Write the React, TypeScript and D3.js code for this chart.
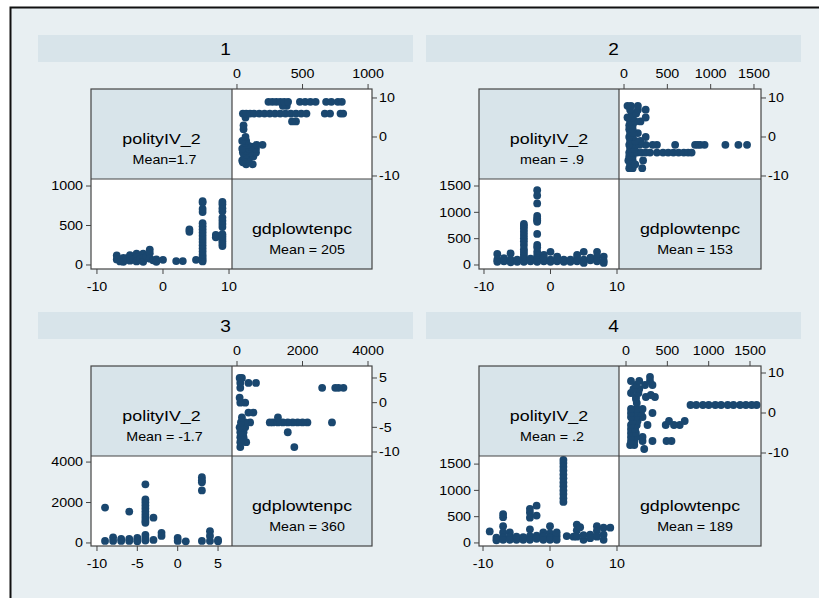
import React from 'react';
import * as d3 from 'd3';

// ---------- data ----------
const panelTitles = ['1', '2', '3', '4'];
const varNameA = 'polityIV_2';
const varNameB = 'gdplowtenpc';
const polityMeanLabels = ['Mean=1.7', 'mean = .9', 'Mean = -1.7', 'Mean = .2'];
const gdpMeanLabels = ['Mean = 205', 'Mean = 153', 'Mean = 360', 'Mean = 189'];

// panel 1
const polity1 = [
  -7, -7, -6.5, -6, -6, -5.5, -5, -5, -4.5, -4, -4, -4, -3.5, -3, -3, -3, -2.5, -2, -2, -2, -1.5, -1, -1, 0, 2, 3, 4, 4, 5,
  6, 6, 6, 6, 6, 6, 6, 6, 6, 6, 6, 6, 6, 6, 6, 6, 6, 6,
  8, 8,
  9, 9, 9, 9, 9, 9, 9, 9, 9, 9, 9, 9, 9, 9,
];
const gdp1 = [
  120, 70, 45, 90, 40, 85, 125, 55, 70, 145, 100, 45, 70, 145, 90, 40, 110, 195, 150, 80, 60, 70, 40, 65, 50, 50, 450, 420, 65,
  45, 70, 100, 130, 170, 210, 250, 290, 330, 370, 410, 450, 490, 530, 670, 710, 790, 810,
  380, 350,
  240, 270, 300, 330, 360, 390, 480, 520, 560, 600, 680, 720, 770, 800,
];

// panel 2
const polity2 = [
  -8, -8, -8, -7, -7, -6, -6, -6, -5, -5,
  -4, -4, -4, -4, -4, -4, -4, -4, -4, -4, -4, -4, -4, -4,
  -3, -3,
  -2, -2, -2, -2, -2, -2, -2, -2, -2, -2, -2, -2, -2, -2, -2,
  -1, -1, -1, 0, 0, 0, 1, 1, 1, 2, 2, 3, 3, 4, 4, 4, 5, 5, 5, 6, 6, 7, 7, 7, 8, 8, 8,
];
const gdp2 = [
  210, 100, 60, 70, 130, 220, 100, 50, 100, 60,
  60, 100, 150, 200, 250, 300, 380, 450, 510, 570, 630, 690, 740, 780,
  70, 120,
  1420, 1320, 1170, 930, 880, 850, 820, 590, 380, 330, 250, 180, 130, 90, 60,
  190, 70, 130, 250, 100, 60, 160, 70, 110, 60, 100, 60, 100, 190, 70, 130, 250, 100, 40, 90, 140, 250, 160, 70, 160, 80, 40,
];

// panel 3
const polity3 = [
  -9, -9, -8, -8, -7, -7, -6, -6, -6, -5, -5, -5,
  -4, -4, -4, -4, -4, -4, -4, -4, -4, -4, -4, -4, -4,
  -3, -3, -2, -2, 0, 0, 1,
  3, 3, 3, 3, 3, 4, 4, 4, 5, 5,
];
const gdp3 = [
  1750, 100, 280, 100, 200, 100, 1550, 200, 100, 250, 150, 80,
  2900, 2150, 2000, 1850, 1700, 1550, 1400, 1250, 1100, 1000, 400, 250, 120,
  1250, 150, 500, 350, 250, 100, 80,
  3250, 3100, 3000, 2600, 100, 580, 350, 100, 150, 80,
];

// panel 4
const polity4 = [
  -9, -8, -8, -7, -7, -7, -7, -7, -7, -6, -6, -6, -5, -5, -4, -4,
  -3, -3, -3, -3, -3, -3, -2, -2, -2, -2, -1, -1, -1, 0, 0, 0, 0, 1, 1, 1,
  2, 2, 2, 2, 2, 2, 2, 2, 2, 2, 2, 2,
  2.5, 3.5, 4, 4, 4, 4.5, 5, 5, 6, 6, 7, 7, 7, 8, 8, 8, 9,
];
const gdp4 = [
  220, 100, 50, 550, 490, 320, 200, 100, 60, 200, 120, 60, 60, 120, 60, 110,
  650, 580, 480, 260, 130, 60, 710, 520, 140, 80, 200, 120, 60, 320, 180, 100, 60, 130, 200, 60,
  1580, 1520, 1450, 1380, 1300, 1230, 1150, 1080, 1000, 930, 850, 780,
  130, 120, 350, 240, 120, 300, 60, 150, 160, 90, 320, 230, 120, 290, 160, 60, 290,
];

const polityData = [polity1, polity2, polity3, polity4];
const gdpData = [gdp1, gdp2, gdp3, gdp4];

// axis ticks
const gdpTicks = [
  [0, 500, 1000],
  [0, 500, 1000, 1500],
  [0, 2000, 4000],
  [0, 500, 1000, 1500],
];
const polityTicks = [
  [-10, 0, 10],
  [-10, 0, 10],
  [-10, -5, 0, 5],
  [-10, 0, 10],
];

// axis domains (x = horizontal cell, y = vertical cell)
const polityXDomain = [[-10.9, 10.45], [-10.75, 10.3], [-10.74, 6.73], [-10.6, 10.3]];
const gdpXDomain = [[-38, 1030], [-58, 1581], [-153, 4122], [-85, 1633]];
const polityYDomain = [[-10.77, 12.3], [-10.77, 12.3], [-10.81, 7.43], [-10.75, 11.75]];
const gdpYDomain = [[-51, 1089], [-76, 1633], [-150, 4300], [-58, 1654]];

// ---------- styles ----------
const FONT = '"Liberation Sans", Arial, Helvetica, sans-serif';
const SX = 1.19;
const BG = '#e8eff2';
const BAND = '#d8e4ea';
const DOT = '#1a476f';
const LINE = '#444';
const R = 3.9;

const T = ({ x, y, anchor = 'middle', size = 12, children }: any) => (
  <text
    transform={`translate(${x},${y}) scale(${SX},1)`}
    textAnchor={anchor}
    fontFamily={FONT}
    fontSize={size}
    fill="#000"
  >
    {children}
  </text>
);

const Panel = ({ i }: { i: number }) => {
  const ox = i % 2 === 0 ? 0 : 388;
  const oy = i < 2 ? 0 : 277;
  const L = 91 + ox;
  const Tp = 89 + oy;
  const W = i % 2 === 0 ? 281 : 282;
  const H = 180;
  const cw = i % 2 === 0 ? 141 : 140;
  const ch = 90;
  const M = L + cw;
  const C = Tp + ch;

  const px = d3.scaleLinear().domain(polityXDomain[i]).range([L, M]);
  const gx = d3.scaleLinear().domain(gdpXDomain[i]).range([M, L + W]);
  const py = d3.scaleLinear().domain(polityYDomain[i]).range([C, Tp]);
  const gy = d3.scaleLinear().domain(gdpYDomain[i]).range([Tp + H, C]);

  const pol = polityData[i];
  const gdp = gdpData[i];

  return (
    <g>
      {/* title band */}
      <rect x={38 + ox} y={35 + oy} width={375} height={27} fill={BAND} />
      <T x={38 + ox + 187.5} y={35 + oy + 20} size={16}>{panelTitles[i]}</T>

      {/* cells */}
      <rect x={L} y={Tp} width={cw} height={ch} fill={BAND} />
      <rect x={M} y={Tp} width={W - cw} height={ch} fill="#fff" />
      <rect x={L} y={C} width={cw} height={H - ch} fill="#fff" />
      <rect x={M} y={C} width={W - cw} height={H - ch} fill={BAND} />

      {/* points: upper-right polity vs gdp */}
      {pol.map((p, k) => (
        <circle key={'ur' + k} cx={gx(gdp[k])} cy={py(p)} r={R} fill={DOT} />
      ))}
      {/* points: lower-left gdp vs polity */}
      {pol.map((p, k) => (
        <circle key={'ll' + k} cx={px(p)} cy={gy(gdp[k])} r={R} fill={DOT} />
      ))}

      {/* borders */}
      <rect x={L} y={Tp} width={W} height={H} fill="none" stroke={LINE} strokeWidth={1.2} />
      <line x1={M} x2={M} y1={Tp} y2={Tp + H} stroke={LINE} strokeWidth={1.2} />
      <line x1={L} x2={L + W} y1={C} y2={C} stroke={LINE} strokeWidth={1.2} />

      {/* top axis: gdp */}
      {gdpTicks[i].map((t) => (
        <g key={'ta' + t}>
          <line x1={gx(t)} x2={gx(t)} y1={Tp} y2={Tp - 5} stroke={LINE} strokeWidth={1} />
          <T x={gx(t)} y={Tp - 11.5}>{t}</T>
        </g>
      ))}
      {/* right axis: polity */}
      {polityTicks[i].map((t) => (
        <g key={'ra' + t}>
          <line x1={L + W} x2={L + W + 5} y1={py(t)} y2={py(t)} stroke={LINE} strokeWidth={1} />
          <T x={L + W + 7} y={py(t) + 4.3} anchor="start">{t}</T>
        </g>
      ))}
      {/* left axis: gdp */}
      {gdpTicks[i].map((t) => (
        <g key={'la' + t}>
          <line x1={L} x2={L - 5} y1={gy(t)} y2={gy(t)} stroke={LINE} strokeWidth={1} />
          <T x={L - 8} y={gy(t) + 4.3} anchor="end">{t}</T>
        </g>
      ))}
      {/* bottom axis: polity */}
      {polityTicks[i].map((t) => (
        <g key={'ba' + t}>
          <line x1={px(t)} x2={px(t)} y1={Tp + H} y2={Tp + H + 5} stroke={LINE} strokeWidth={1} />
          <T x={px(t)} y={Tp + H + 22}>{t}</T>
        </g>
      ))}

      {/* diagonal labels */}
      <T x={L + cw / 2} y={Tp + 54.5} size={15}>{varNameA}</T>
      <T x={L + cw / 2 + 3} y={Tp + 74.5} size={12}>{polityMeanLabels[i]}</T>
      <T x={M + (W - cw) / 2} y={C + 55} size={15}>{varNameB}</T>
      <T x={M + (W - cw) / 2 + 5} y={C + 74.5} size={12}>{gdpMeanLabels[i]}</T>
    </g>
  );
};

export default function App() {
  return (
    <svg
      width={819}
      height={598}
      style={{ position: 'absolute', left: 0, top: 0, display: 'block' }}
    >
      <rect x={0} y={0} width={819} height={598} fill="#fff" />
      <rect x={10.5} y={7.5} width={860} height={650} fill={BG} stroke="#111" strokeWidth={2} />
      {[0, 1, 2, 3].map((i) => (
        <Panel key={i} i={i} />
      ))}
    </svg>
  );
}
